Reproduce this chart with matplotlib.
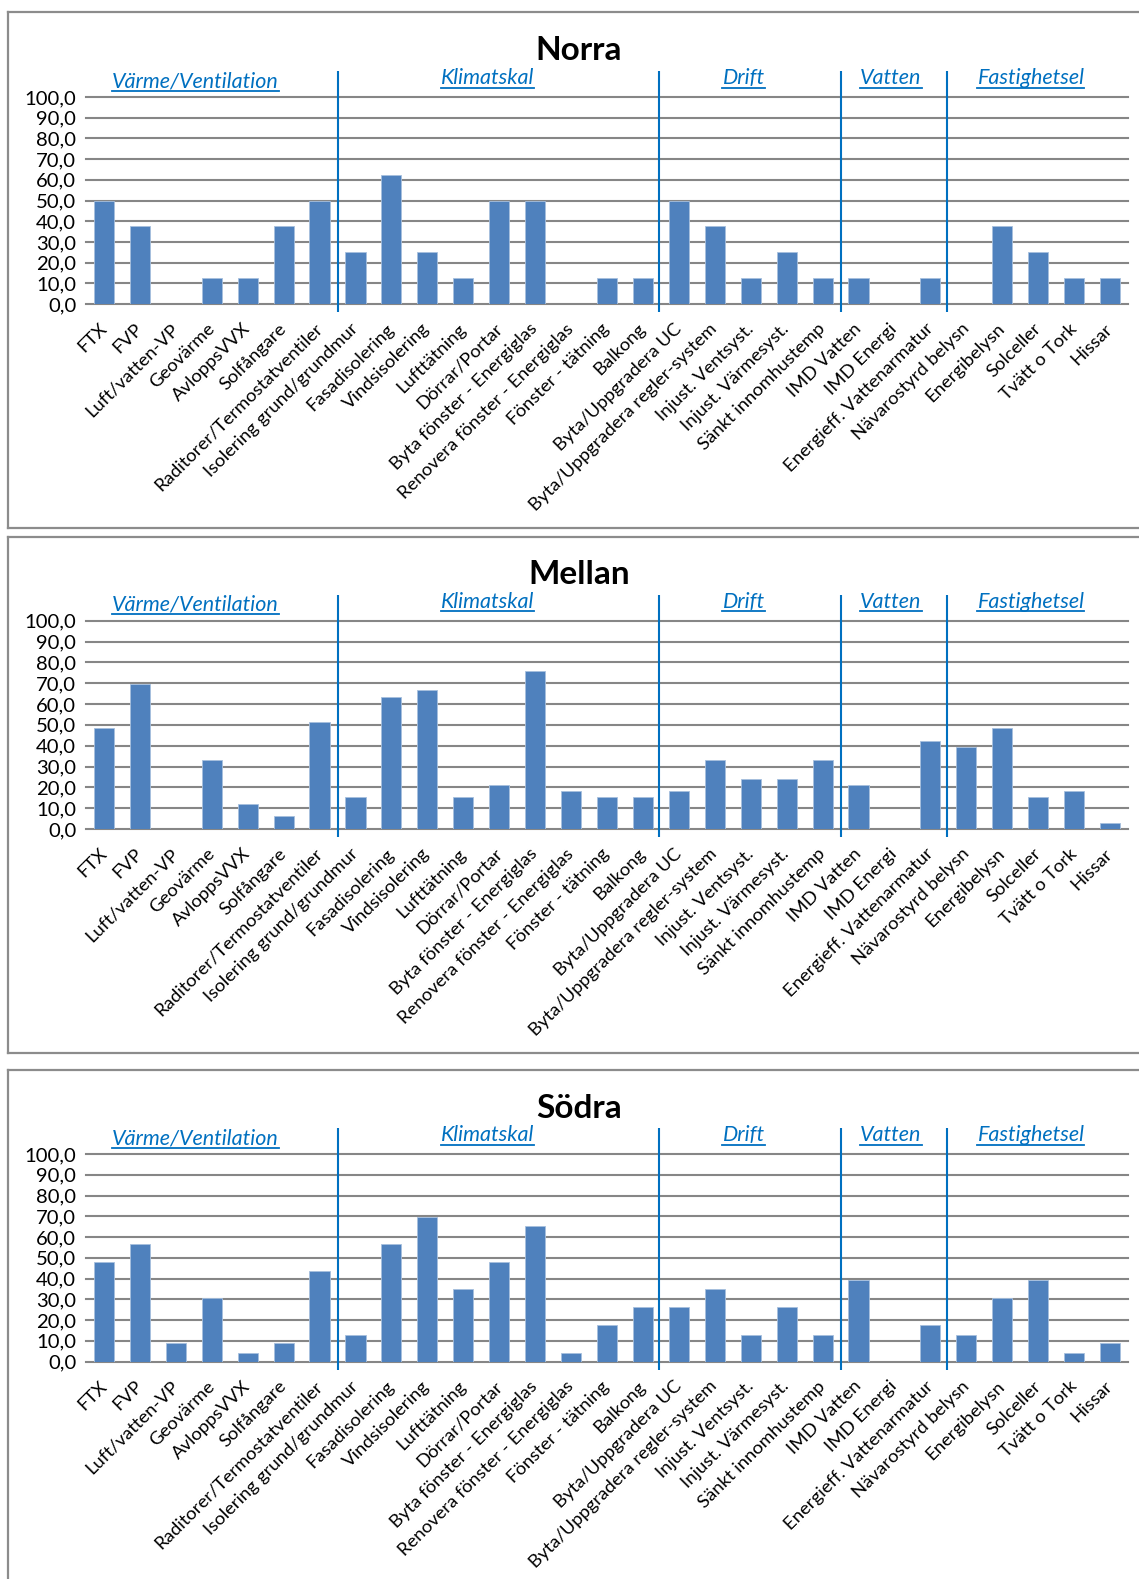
import matplotlib
matplotlib.use("Agg")
import matplotlib.pyplot as plt
from matplotlib.lines import Line2D


kategorier = ["FTX", "FVP", "Luft/vatten-VP", "Geovärme", "AvloppsVVX", "Solfångare",
              "Raditorer/Termostatventiler", "Isolering grund/grundmur", "Fasadisolering",
              "Vindsisolering", "Lufttätning", "Dörrar/Portar", "Byta fönster - Energiglas",
              "Renovera fönster - Energiglas", "Fönster - tätning", "Balkong",
              "Byta/Uppgradera UC", "Byta/Uppgradera regler-system", "Injust. Ventsyst.",
              "Injust. Värmesyst.", "Sänkt innomhustemp", "IMD Vatten", "IMD Energi",
              "Energieff. Vattenarmatur", "Nävarostyrd belysn", "Energibelysn", "Solceller",
              "Tvätt o Tork", "Hissar"]

norra = [50.0, 37.5, 0.0, 12.5, 12.5, 37.5, 50.0, 25.0, 62.5, 25.0, 12.5, 50.0, 50.0, 0.0,
         12.5, 12.5, 50.0, 37.5, 12.5, 25.0, 12.5, 12.5, 0.0, 12.5, 0.0, 37.5, 25.0, 12.5, 12.5]
mellan = [48.5, 69.7, 0.0, 33.3, 12.1, 6.1, 51.5, 15.2, 63.6, 66.7, 15.2, 21.2, 75.8, 18.2,
          15.2, 15.2, 18.2, 33.3, 24.2, 24.2, 33.3, 21.2, 0.0, 42.4, 39.4, 48.5, 15.2, 18.2, 3.0]
sodra = [47.8, 56.5, 8.7, 30.4, 4.3, 8.7, 43.5, 13.0, 56.5, 69.6, 34.8, 47.8, 65.2, 4.3,
         17.4, 26.1, 26.1, 34.8, 13.0, 26.1, 13.0, 39.1, 0.0, 17.4, 13.0, 30.4, 39.1, 4.3, 8.7]

grupper = ["Värme/Ventilation", "Klimatskal", "Drift", "Vatten", "Fastighetsel"]
grupp_x = [2.55, 10.67, 17.8, 21.9, 25.8]
grupp_y = [107.6, 109.0, 109.0, 109.0, 109.0]
skiljelinjer = [6.5, 15.45, 20.5, 23.45]
yticks = list(range(0, 101, 10))

W, H = 1139, 1579
BLA = "#0070C0"
GRA = "#868686"

plt.rcParams['font.family'] = ['Lato', 'DejaVu Sans']
fig = plt.figure(figsize=(W / 100, H / 100), dpi=100)
rubriker = []


def fx(px):
    return px / W


def fy(py):
    return 1 - py / H


def ram(topp, botten):
    # grå ram runt varje diagram (höger kant utanför bilden)
    fig.add_artist(Line2D([fx(8), 1.0], [fy(topp), fy(topp)], color="#8C8C8C", lw=1.6))
    if botten is not None:
        fig.add_artist(Line2D([fx(8), 1.0], [fy(botten), fy(botten)], color="#8C8C8C", lw=1.6))
        fig.add_artist(Line2D([fx(8), fx(8)], [fy(topp), fy(botten)], color="#8C8C8C", lw=1.6))
    else:
        fig.add_artist(Line2D([fx(8), fx(8)], [fy(topp), 0.0], color="#8C8C8C", lw=1.6))


def panel(namn, varden, topp, noll, ram_topp, ram_botten, titel_y):
    ram(ram_topp, ram_botten)
    ax = fig.add_axes([fx(86), fy(noll), fx(1128) - fx(86), fy(topp) - fy(noll)])
    ax.set_xlim(-0.5, 28.5)
    ax.set_ylim(0, 100)
    for v in yticks:
        ax.axhline(v, color=GRA, lw=1.5, zorder=1, clip_on=False)
    ax.bar(range(len(kategorier)), varden, width=0.56, color="#4F81BD",
           edgecolor="#A7C0DE", lw=0.6, zorder=2)

    ax.set_yticks(yticks)
    ax.set_yticklabels(["{:.1f}".format(v).replace(".", ",") for v in yticks], fontsize=14.6)
    ax.set_xticks(range(len(kategorier)))
    ax.set_xticklabels(kategorier, rotation=45, ha="right", va="center",
                       rotation_mode="anchor", fontsize=13.3)
    ax.tick_params(axis="x", length=0, pad=16)
    ax.tick_params(axis="y", length=0, pad=7)
    for s in ax.spines.values():
        s.set_visible(False)

    ax.vlines(skiljelinjer, -4, 112.5, color=BLA, lw=1.5, clip_on=False, zorder=3)
    for g, gx, gy in zip(grupper, grupp_x, grupp_y):
        t = ax.text(gx, gy, g, color=BLA, style="italic", fontsize=15.5,
                    ha="center", va="center", clip_on=False)
        rubriker.append(t)

    fig.text(fx(579), fy(titel_y), namn, fontsize=24, fontweight="bold",
             ha="center", va="center")


def understruken():
    fig.canvas.draw()
    r = fig.canvas.get_renderer()
    for t in rubriker:
        bb = t.get_window_extent(renderer=r).transformed(fig.transFigure.inverted())
        y = bb.y0 + 0.6 / H
        fig.add_artist(Line2D([bb.x0, bb.x1], [y, y], color=BLA, lw=1.3))


def main():
    panel("Norra", norra, 97, 304, 12, 528, 50)
    panel("Mellan", mellan, 620.7, 829, 537, 1053, 575)
    panel("Södra", sodra, 1154, 1361.5, 1070, None, 1108)
    understruken()
    fig.savefig("out.png", dpi=100)


if __name__ == "__main__":
    main()
